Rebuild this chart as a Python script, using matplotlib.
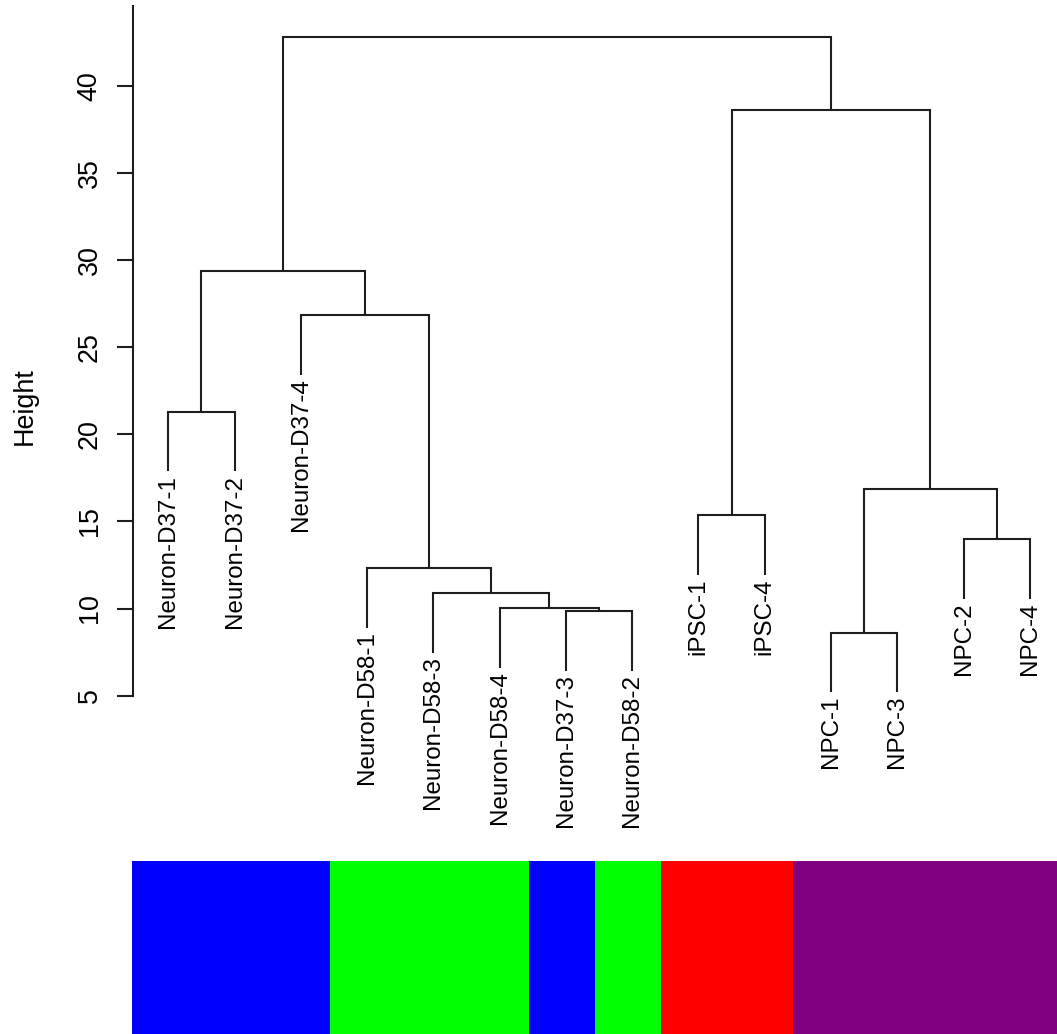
import matplotlib
matplotlib.use("Agg")
import matplotlib.pyplot as plt

plt.rcParams['font.family'] = ['Liberation Sans', 'DejaVu Sans']

# ---------------- data ----------------
leaf_labels = ["Neuron-D37-1", "Neuron-D37-2", "Neuron-D37-4", "Neuron-D58-1",
               "Neuron-D58-3", "Neuron-D58-4", "Neuron-D37-3", "Neuron-D58-2",
               "iPSC-1", "iPSC-4", "NPC-1", "NPC-3", "NPC-2", "NPC-4"]
# R-style merge matrix: negative = leaf (1-based, in display order), positive = earlier merge
merge_a = [-11, -7, -6, -5, -4, -13, -9, 1, -1, -3, 9, 7, 11]
merge_b = [-12, -8, 2, 3, 4, -14, -10, 6, -2, 5, 10, 8, 12]
merge_height = [8.61, 9.86, 10.01, 10.87, 12.31, 13.99, 15.37, 16.84,
                21.29, 26.84, 29.38, 38.60, 42.81]
cell_colors = ["#0000FF", "#0000FF", "#0000FF", "#00FF00", "#00FF00", "#00FF00",
               "#0000FF", "#00FF00", "#FF0000", "#FF0000",
               "#800080", "#800080", "#800080", "#800080"]
y_ticks = [5, 10, 15, 20, 25, 30, 35, 40]

# ---------------- figure ----------------
W, H = 1057, 1034
fig = plt.figure(figsize=(W / 100, H / 100), dpi=100)

def rect(l, t, r, b):
    return [l / W, 1 - b / H, (r - l) / W, (b - t) / H]

ax = fig.add_axes(rect(133, 6, 1057, 840))
ax.set_xlim(0.467, 14.41)
ax.set_ylim(-3.28, 44.57)

line_col = "#1e1e1e"
lw = 1.5
hang = 0.1 * (max(merge_height) - min(merge_height))

node_x = {}
def child_x(c):
    return float(-c) if c < 0 else node_x[c]

for k, (a, b, h) in enumerate(zip(merge_a, merge_b, merge_height), start=1):
    xa, xb = child_x(a), child_x(b)
    ya = h - hang if a < 0 else merge_height[a - 1]
    yb = h - hang if b < 0 else merge_height[b - 1]
    ax.plot([xa, xa, xb, xb], [ya, h, h, yb], color=line_col, lw=lw,
            solid_joinstyle='miter', solid_capstyle='butt')
    node_x[k] = (xa + xb) / 2
    for c, yc in ((a, ya), (b, yb)):
        if c < 0:
            ax.annotate(leaf_labels[-c - 1], xy=(-c, yc), xytext=(0, -2.5),
                        textcoords='offset points', rotation=90,
                        ha='center', va='top', fontsize=17.4, color='black',
                        annotation_clip=False)

for s in ['top', 'right', 'bottom']:
    ax.spines[s].set_visible(False)
ax.spines['left'].set_bounds(5, 44.57)
ax.spines['left'].set_linewidth(lw)
ax.spines['left'].set_color(line_col)
ax.set_xticks([])
ax.set_yticks(y_ticks)
ax.set_yticklabels([str(t) for t in y_ticks])
ax.tick_params(axis='y', direction='out', length=11.5, width=lw, color=line_col,
               labelsize=19.4, pad=10.3)
for t in ax.get_yticklabels():
    t.set_rotation(90)
    t.set_va('center')

fig.text(24.9 / W, 1 - 406 / H, "Height", rotation=90, ha='center', va='center',
         fontsize=19.4)

# ---------------- colour bar ----------------
cax = fig.add_axes(rect(132.3, 860.7, 1057, 1034))
cax.bar(range(len(cell_colors)), [1] * len(cell_colors), width=1.0,
        color=cell_colors, linewidth=0, align='center')
cax.set_xlim(-0.5, len(cell_colors) - 0.5)
cax.set_ylim(0, 1)
cax.axis('off')

fig.savefig("out.png", dpi=100)
